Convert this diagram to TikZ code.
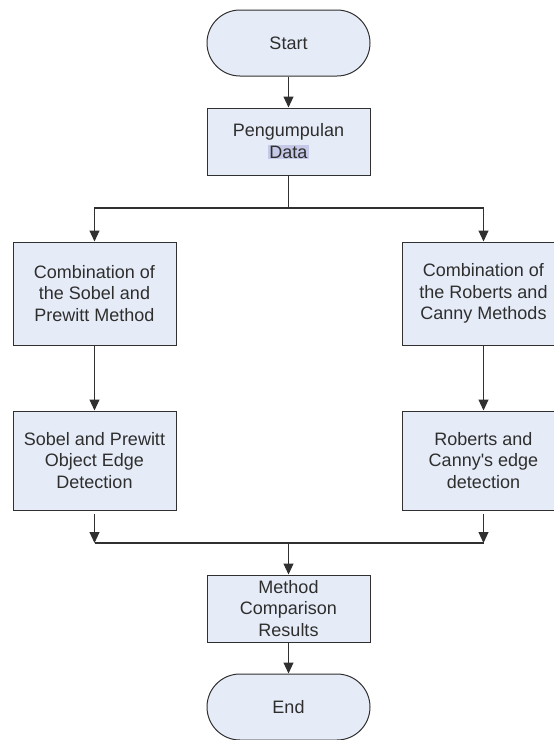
\documentclass[tikz,border=0pt]{standalone}
\usepackage{fontspec}
\setmainfont{Liberation Sans}
\usetikzlibrary{arrows.meta}
\definecolor{boxfill}{HTML}{E6ECF7}
\definecolor{boxline}{HTML}{303030}
\definecolor{txt}{HTML}{2E2E2E}
\definecolor{hilite}{HTML}{C5C8E6}
\tikzset{
  procbox/.style={draw=boxline, line width=1pt, fill=boxfill, minimum width=163pt, inner sep=0pt, align=center, text=txt, font=\fontsize{18}{21.5}\selectfont},
  termbox/.style={procbox, minimum height=66pt, rounded corners=33pt},
  conn/.style={draw=boxline, line width=1.1pt},
  arr/.style={conn, -{Triangle[width=10pt,length=11pt]}}
}
\begin{document}
\begin{tikzpicture}[x=1pt,y=-1pt]
\clip (0,0) rectangle (554,740);
\fill[white] (0,0) rectangle (554,740);
\node[termbox] (start) at (288.5,43) {Start};
\node[procbox, minimum height=67pt] (data) at (288.5,141.5) {Pengumpulan\\{\setlength\fboxsep{1pt}\colorbox{hilite}{Data}}};
\node[procbox, minimum height=103pt] (comb1) at (94.5,293.5) {Combination of\\the Sobel and\\Prewitt Method};
\node[procbox, minimum height=103pt] (comb2) at (483.5,293.5) {Combination of\\the Roberts and\\Canny Methods};
\node[procbox, minimum height=99pt] (det1) at (94.5,460.5) {Sobel and Prewitt\\Object Edge\\Detection};
\node[procbox, minimum height=99pt] (det2) at (483.5,460.5) {Roberts and\\Canny\textquotesingle s edge\\detection};
\node[procbox, minimum height=67pt] (method) at (288.5,608.5) {Method\\Comparison\\Results};
\node[termbox] (end) at (288.5,707) {End};
\coordinate (j1) at (288.5,208);
\coordinate (j2) at (288.5,543);
\draw[arr] (start) -- (data);
\draw[conn] (data) -- (j1);
\draw[arr] (j1) -| (comb1);
\draw[arr] (j1) -| (comb2);
\draw[arr] (comb1) -- (det1);
\draw[arr] (comb2) -- (det2);
\draw[arr, shorten <=3pt] (det1) -- (det1 |- j2);
\draw[arr, shorten <=3pt] (det2) -- (det2 |- j2);
\draw[conn] (det1 |- j2) -- (det2 |- j2);
\draw[arr] (j2) -- (method);
\draw[arr] (method) -- (end);
\end{tikzpicture}
\end{document}
